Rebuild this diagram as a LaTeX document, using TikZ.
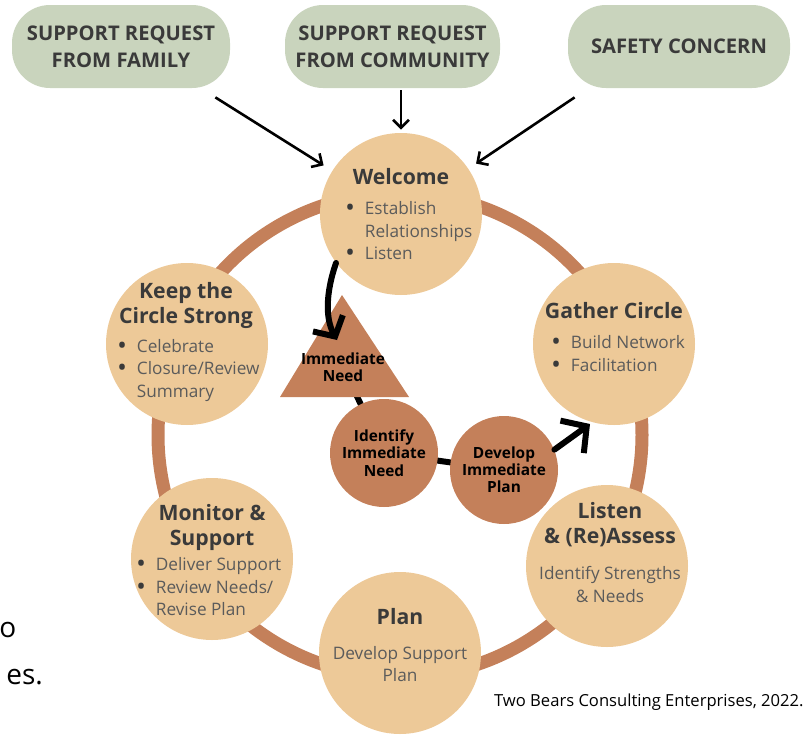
\documentclass[tikz,border=0pt]{standalone}
\usepackage{fontspec}
\setmainfont{Open Sans}
\usetikzlibrary{arrows.meta,backgrounds}
\definecolor{ringbrown}{HTML}{C4805A}
\definecolor{peach}{HTML}{EDC998}
\definecolor{sage}{HTML}{C9D4BD}
\definecolor{titlegray}{HTML}{3A3A3A}
\definecolor{bodygray}{HTML}{5B5B5B}
\newcommand{\stagedot}{{\color{titlegray}\bfseries\fontsize{10}{11.25}\selectfont\textbullet}}

\begin{document}
\begin{tikzpicture}[x=0.5pt, y=-0.5pt,
    stage/.style={circle, fill=peach, minimum size=81pt, inner sep=0pt},
    stagetitle/.style={align=center, inner sep=0pt, text=titlegray, font=\bfseries\fontsize{10.6}{12.5}\selectfont},
    stagebody/.style={align=center, inner sep=0pt, text=bodygray, font=\fontsize{8.6}{11.25}\selectfont},
    stepnode/.style={circle, fill=ringbrown, minimum size=54pt, inner sep=0pt, align=center,
      font=\bfseries\fontsize{7.7}{8.6}\selectfont},
    request/.style={rectangle, rounded corners=19pt, fill=sage, minimum height=41.5pt,
      align=center, text=titlegray, font=\bfseries\fontsize{10.1}{13.5}\selectfont},
    feed/.style={-{Straight Barb[length=4pt,width=8pt]}, line width=1.3pt},
    flow/.style={line width=3pt, line cap=round}]
    \useasboundingbox (0,0) rectangle (809,734);

    %% Requests
    \node[request, minimum width=109pt] (family) at (121,46.5) {SUPPORT REQUEST\\FROM FAMILY};
    \node[request, minimum width=107.5pt] (community) at (392.5,46.5) {SUPPORT REQUEST\\FROM COMMUNITY};
    \node[request, minimum width=111pt] (safety) at (679,46.5) {SAFETY CONCERN};

    %% Stages on the circle
    \node[stage] (welcome) at (401,214) {};
    \node[stage] (gather) at (614,344) {};
    \node[stage] (listen) at (607,566) {};
    \node[stage] (plan) at (400,653) {};
    \node[stage] (monitor) at (212,559) {};
    \node[stage] (keep) at (187,344) {};

    \node[stagetitle] (welcometitle) at (401,177) {Welcome};
    \node[stagebody, anchor=west] (welcomebody) at (346,232.5) {\begin{tabular}{@{}l@{\hspace{5.5pt}}l@{}}
      \stagedot & Establish\\ & Relationships\\ \stagedot & Listen\end{tabular}};

    \node[stagetitle] (gathertitle) at (614,311) {Gather Circle};
    \node[stagebody, anchor=west] (gatherbody) at (552,355.5) {\begin{tabular}{@{}l@{\hspace{5.5pt}}l@{}}
      \stagedot & Build Network\\ \stagedot & Facilitation\end{tabular}};

    \node[stagetitle] (listentitle) at (610,525) {Listen\\\& (Re)Assess};
    \node[stagebody] (listenbody) at (610,584.5) {Identify Strengths\\\& Needs};

    \node[stagetitle] (plantitle) at (400,617) {Plan};
    \node[stagebody] (planbody) at (400,664) {Develop Support\\Plan};

    \node[stagetitle] (monitortitle) at (212,527.5) {Monitor \&\\Support};
    \node[stagebody, anchor=west] (monitorbody) at (137,588.5) {\begin{tabular}{@{}l@{\hspace{5.5pt}}l@{}}
      \stagedot & Deliver Support\\ \stagedot & Review Needs/\\ & Revise Plan\end{tabular}};

    \node[stagetitle] (keeptitle) at (186,305.5) {Keep the\\Circle Strong};
    \node[stagebody, anchor=west] (keepbody) at (118,370) {\begin{tabular}{@{}l@{\hspace{5.5pt}}l@{}}
      \stagedot & Celebrate\\ \stagedot & Closure/Review\\ & Summary\end{tabular}};

    %% Immediate need path
    \fill[ringbrown] (342,295) -- (409,397) -- (280,397) -- cycle;
    \node[font=\bfseries\fontsize{7.7}{8.6}\selectfont, align=center] (need) at (343,367) {Immediate\\Need};
    \node[stepnode] (identify) at (384,453) {Identify\\Immediate\\Need};
    \node[stepnode] (develop) at (504,470) {Develop\\Immediate\\Plan};
    \coordinate (needtip) at (337,340);
    \coordinate (gathertip) at (590,424);

    \draw[flow, -{Straight Barb[length=7.5pt,width=17pt]}] (welcome.217) .. controls (326,292) and (325,318) .. (needtip);
    \draw[flow, -{Straight Barb[length=9pt,width=20pt]}] (develop.22) -- (gathertip);

    %% Arrows from the requests
    \draw[feed, shorten >=5pt] ([shift={(-15,9)}]family.south east) -- (welcome);
    \draw[feed, shorten >=1.5pt] ([yshift=-1pt]community.south -| welcome.north) -- (welcome.north);
    \draw[feed, shorten >=4.5pt] ([shift={(7,9)}]safety.south west) -- (welcome);

    \begin{scope}[on background layer]
      %% Ring
      \draw[ringbrown, line width=6.5pt] (400,435) circle [radius=121pt];
      \draw[flow] (need) -- (identify);
      \draw[flow] (identify) -- (develop);
    \end{scope}

    %% Cut-off slide text and credit
    \node[anchor=west, inner sep=0pt, font=\fontsize{14}{16}\selectfont] (cuto) at (-1,630) {o};
    \node[anchor=west, inner sep=0pt, font=\fontsize{14}{16}\selectfont] (cutes) at (6,677) {es.};
    \node[anchor=east, inner sep=0pt, font=\fontsize{8.3}{10}\selectfont] (credit) at (804,702) {Two Bears Consulting Enterprises, 2022.};
\end{tikzpicture}
\end{document}
